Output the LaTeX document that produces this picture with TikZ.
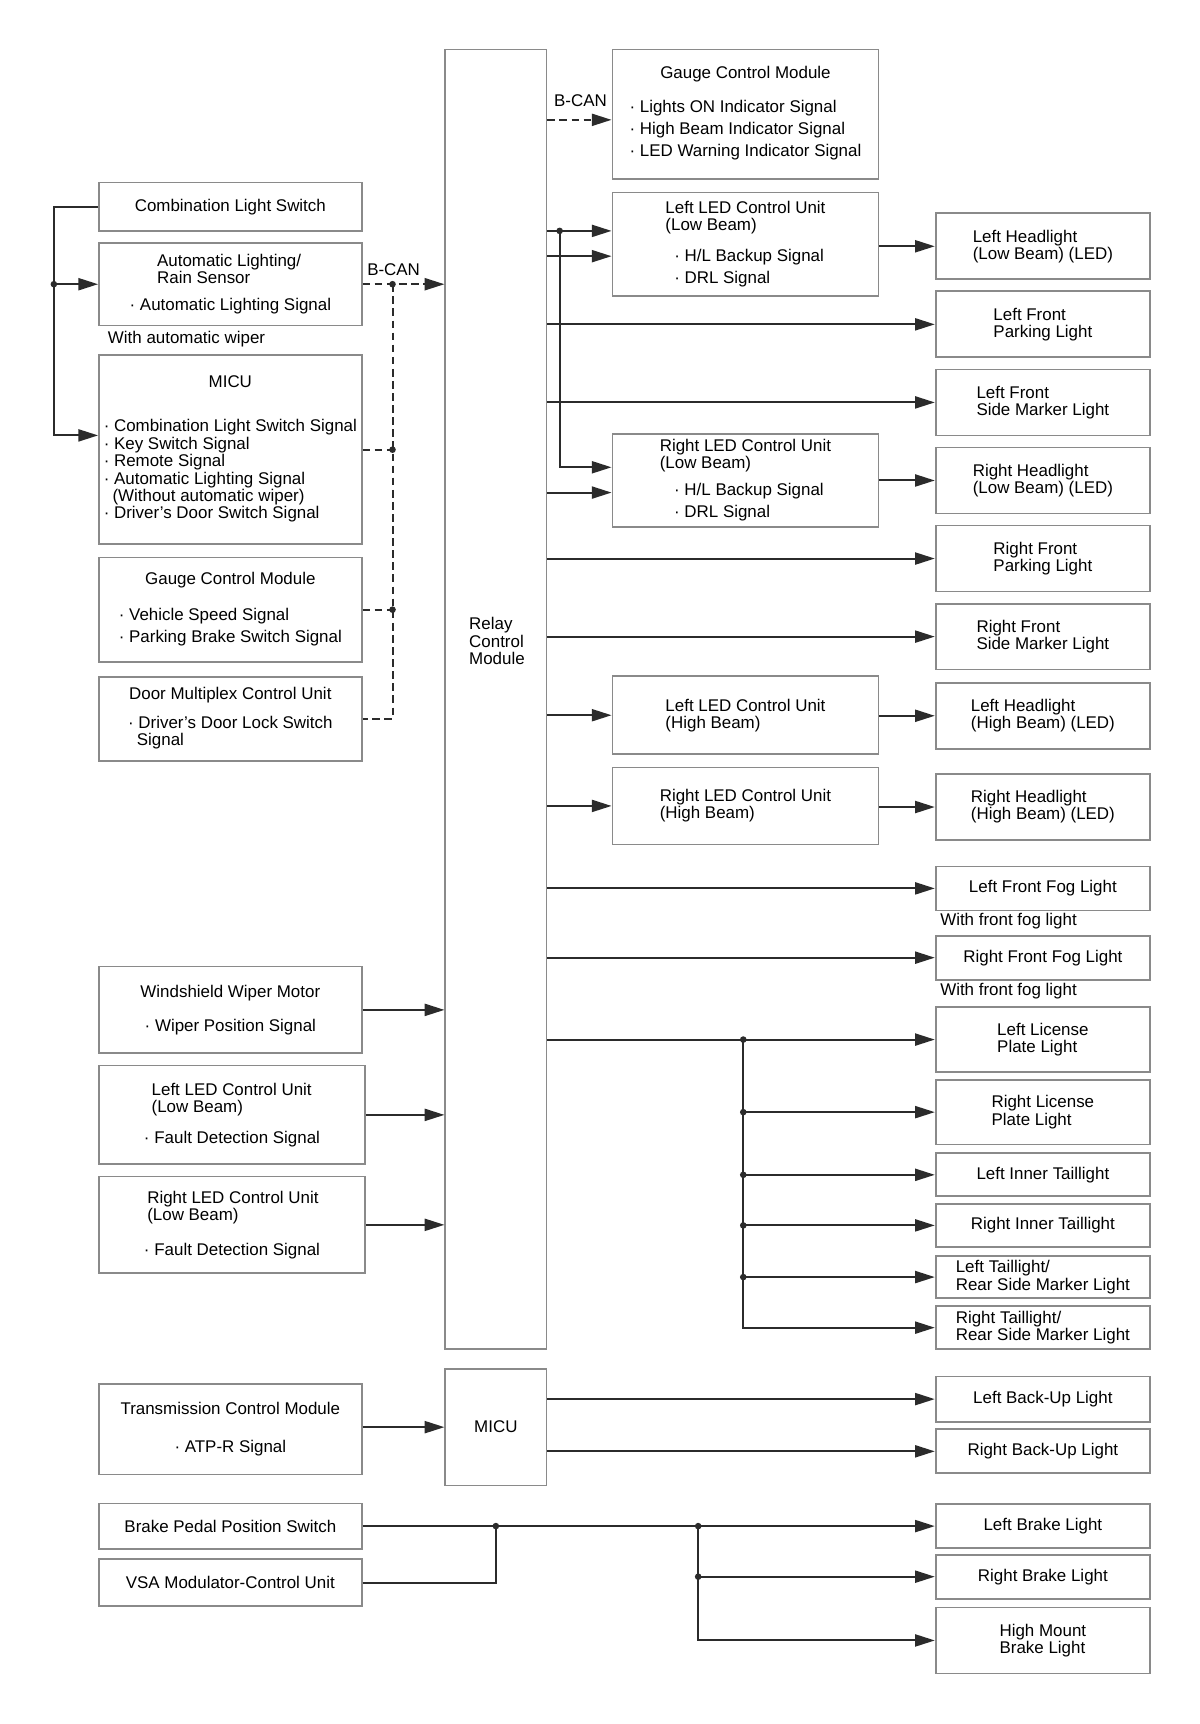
\documentclass[tikz,border=0pt]{standalone}
\usepackage{fontspec}
\setmainfont{Liberation Sans}
\usetikzlibrary{arrows.meta}
\definecolor{WireGray}{HTML}{2B2B2B}
\definecolor{BoxGray}{HTML}{8A8A8A}

\begin{document}
\begin{tikzpicture}[x=1pt, y=-1pt, >={Triangle[length=18pt,width=11pt]},
                    every node/.style={font=\fontsize{15.4}{15.6}\selectfont, inner sep=0pt, align=left},
                    box/.style={draw=BoxGray, line width=1.6pt, fill=white},
                    lbox/.style={box, minimum width=239pt},
                    mbox/.style={box, minimum width=242pt},
                    rbox/.style={box, minimum width=195pt},
                    link/.style={draw=WireGray, line width=1.8pt},
                    can/.style={link, dash pattern=on 7pt off 4pt},
                    note/.style={anchor=west}]
\useasboundingbox[fill=white] (0,0) rectangle (1091,1568);

% inputs on the left
\node[lbox, minimum height=44pt] (cls) at (209.5,188) {Combination Light Switch};
\node[lbox, minimum height=75pt] (als) at (209.5,258.5)
  {\hspace*{25pt}Automatic Lighting/\\\hspace*{25pt}Rain Sensor\\[9pt]· Automatic Lighting Signal};
\node[note] (wiperopt) at (98,308) {With automatic wiper};
\node[lbox, minimum height=172pt, align=center] (micu1) at (209.5,409)
  {MICU\\[25pt]\begin{tabular}[t]{@{}l@{}}· Combination Light Switch Signal\\· Key Switch Signal\\
   · Remote Signal\\· Automatic Lighting Signal\\\hspace*{8pt}(Without automatic wiper)\\
   · Driver's Door Switch Signal\end{tabular}};
\node[lbox, minimum height=95pt, align=center] (gcm2) at (209.5,554.5)
  {Gauge Control Module\\[17pt]\begin{tabular}[t]{@{}l@{}}· Vehicle Speed Signal\\[4.4pt]
   · Parking Brake Switch Signal\end{tabular}};
\node[lbox, minimum height=76pt, align=center] (dmcu) at (209.5,654)
  {Door Multiplex Control Unit\\[10pt]\begin{tabular}[t]{@{}l@{}}· Driver's Door Lock Switch\\
   \hspace*{8pt}Signal\end{tabular}};
\node[lbox, minimum height=79pt, align=center] (wwm) at (209.5,918.5)
  {Windshield Wiper Motor\\[15pt]· Wiper Position Signal};
\node[box, minimum width=242pt, minimum height=90pt] (lledf) at (211,1014)
  {\hspace*{7pt}Left LED Control Unit\\\hspace*{7pt}(Low Beam)\\[12pt]· Fault Detection Signal};
\node[box, minimum width=242pt, minimum height=88pt] (rledf) at (211,1114)
  {\hspace*{3pt}Right LED Control Unit\\\hspace*{3pt}(Low Beam)\\[16pt]· Fault Detection Signal};
\node[lbox, minimum height=82pt, align=center] (tcm) at (209.5,1300)
  {Transmission Control Module\\[19pt]· ATP-R Signal};
\node[lbox, minimum height=41pt] (bpps) at (209.5,1388) {Brake Pedal Position Switch};
\node[lbox, minimum height=43pt] (vsa) at (209.5,1439.5) {VSA Modulator-Control Unit};

% control modules
\node[box, minimum width=92pt, minimum height=1182pt] (relay) at (451,636) {};
\node (rcmtxt) at (452,583) {Relay\\Control\\Module};
\node[box, minimum width=92pt, minimum height=106pt] (micu2) at (451,1298) {MICU};

\node[mbox, minimum height=118pt, align=center] (gcm1) at (678,104)
  {Gauge Control Module\\[15pt]\begin{tabular}[t]{@{}l@{}}· Lights ON Indicator Signal\\[4.4pt]
   · High Beam Indicator Signal\\[4.4pt]· LED Warning Indicator Signal\end{tabular}};
\node[mbox, minimum height=94pt] (lledl) at (678,222)
  {Left LED Control Unit\\(Low Beam)\\[13pt]\hspace*{8pt}· H/L Backup Signal\\[4.4pt]\hspace*{8pt}· DRL Signal};
\node[mbox, minimum height=84pt] (rledl) at (678,437)
  {Right LED Control Unit\\(Low Beam)\\[9pt]\hspace*{13pt}· H/L Backup Signal\\[4.4pt]\hspace*{13pt}· DRL Signal};
\node[mbox, minimum height=71pt] (lledh) at (678,650.5) {Left LED Control Unit\\(High Beam)};
\node[mbox, minimum height=70pt] (rledh) at (678,733) {Right LED Control Unit\\(High Beam)};

% lights on the right
\node[rbox, minimum height=60pt] (lhl) at (948.5,224) {Left Headlight\\(Low Beam) (LED)};
\node[rbox, minimum height=60pt] (lfpl) at (948.5,295) {Left Front\\Parking Light};
\node[rbox, minimum height=60pt] (lfsm) at (948.5,366) {Left Front\\Side Marker Light};
\node[rbox, minimum height=60pt] (rhl) at (948.5,437) {Right Headlight\\(Low Beam) (LED)};
\node[rbox, minimum height=60pt] (rfpl) at (948.5,508) {Right Front\\Parking Light};
\node[rbox, minimum height=60pt] (rfsm) at (948.5,579) {Right Front\\Side Marker Light};
\node[rbox, minimum height=60pt] (lhh) at (948.5,651) {Left Headlight\\(High Beam) (LED)};
\node[rbox, minimum height=60pt] (rhh) at (948.5,734) {Right Headlight\\(High Beam) (LED)};
\node[rbox, minimum height=40pt] (lfog) at (948.5,808) {Left Front Fog Light};
\node[note] (fogopt1) at (855,838) {With front fog light};
\node[rbox, minimum height=40pt] (rfog) at (948.5,871) {Right Front Fog Light};
\node[note] (fogopt2) at (855,901) {With front fog light};
\node[rbox, minimum height=59pt] (llp) at (948.5,945.5) {Left License\\Plate Light};
\node[rbox, minimum height=59pt] (rlp) at (948.5,1011.5) {Right License\\Plate Light};
\node[rbox, minimum height=39pt] (lit) at (948.5,1068.5) {Left Inner Taillight};
\node[rbox, minimum height=39pt] (rit) at (948.5,1114.5) {Right Inner Taillight};
\node[rbox, minimum height=38pt] (ltl) at (948.5,1161.5) {Left Taillight/\\Rear Side Marker Light};
\node[rbox, minimum height=39pt] (rtl) at (948.5,1207.5) {Right Taillight/\\Rear Side Marker Light};
\node[rbox, minimum height=41pt] (lbu) at (948.5,1272.5) {Left Back-Up Light};
\node[rbox, minimum height=40pt] (rbu) at (948.5,1320) {Right Back-Up Light};
\node[rbox, minimum height=40pt] (lbl) at (948.5,1388) {Left Brake Light};
\node[rbox, minimum height=40pt] (rbl) at (948.5,1434) {Right Brake Light};
\node[rbox, minimum height=60pt] (hmbl) at (948.5,1492) {High Mount\\Brake Light};

% junctions
\coordinate (lj) at (49,188);
\coordinate (cj) at (357,258.5);
\coordinate (j1) at (509,210);
\coordinate (tj) at (676,945.5);
\coordinate (bj) at (451,1388);
\coordinate (sj) at (635,1388);
\coordinate (ma) at ([yshift=13pt]micu1.west);
\coordinate (ga) at ([yshift=-5pt]gcm1.west);
\coordinate (la1) at ([yshift=12pt]lledl.west);
\coordinate (la2) at ([yshift=-11pt]lledl.west);
\coordinate (ra1) at ([yshift=12pt]rledl.west);
\coordinate (ra2) at ([yshift=-11pt]rledl.west);

% B-CAN
\node (canl1) at (358,245) {B-CAN};
\node (canl2) at (528,92) {B-CAN};
\draw[can,->] (als.east) -- (als.east -| relay.west);
\draw[can] (cj) |- (dmcu.east);
\draw[can] (micu1.east) -- (micu1.east -| cj);
\draw[can] (gcm2.east) -- (gcm2.east -| cj);
\draw[can,->] (relay.east |- ga) -- (ga);

% left side wiring
\draw[link,->] (cls.west) -- (lj) |- (ma);
\draw[link,->] (lj |- als.west) -- (als.west);
\draw[link,->] (wwm.east) -- (wwm.east -| relay.west);
\draw[link,->] (lledf.east) -- (lledf.east -| relay.west);
\draw[link,->] (rledf.east) -- (rledf.east -| relay.west);

% relay control module outputs
\draw[link,->] (relay.east |- la1) -- (la1);
\draw[link,->] (j1) |- (ra1);
\draw[link,->] (relay.east |- la2) -- (la2);
\draw[link,->] (relay.east |- ra2) -- (ra2);
\draw[link,->] (lledl.east |- lhl.west) -- (lhl.west);
\draw[link,->] (rledl.east |- rhl.west) -- (rhl.west);
\draw[link,->] (relay.east |- lfpl.west) -- (lfpl.west);
\draw[link,->] (relay.east |- lfsm.west) -- (lfsm.west);
\draw[link,->] (relay.east |- rfpl.west) -- (rfpl.west);
\draw[link,->] (relay.east |- rfsm.west) -- (rfsm.west);
\draw[link,->] (relay.east |- lledh.west) -- (lledh.west);
\draw[link,->] (lledh.east |- lhh.west) -- (lhh.west);
\draw[link,->] (relay.east |- rledh.west) -- (rledh.west);
\draw[link,->] (rledh.east |- rhh.west) -- (rhh.west);
\draw[link,->] (relay.east |- lfog.west) -- (lfog.west);
\draw[link,->] (relay.east |- rfog.west) -- (rfog.west);
\draw[link,->] (relay.east |- llp.west) -- (llp.west);
\draw[link,->] (tj) |- (rlp.west);
\draw[link,->] (tj) |- (lit.west);
\draw[link,->] (tj) |- (rit.west);
\draw[link,->] (tj) |- (ltl.west);
\draw[link,->] (tj) |- (rtl.west);

% MICU and brake lights
\draw[link,->] (tcm.east |- micu2.west) -- (micu2.west);
\draw[link,->] (micu2.east |- lbu.west) -- (lbu.west);
\draw[link,->] (micu2.east |- rbu.west) -- (rbu.west);
\draw[link,->] (bpps.east) -- (lbl.west);
\draw[link] (vsa.east) -| (bj);
\draw[link,->] (sj) |- (rbl.west);
\draw[link,->] (sj) |- (hmbl.west);

% dots
\fill[WireGray] (lj |- als.west) circle (3pt);
\fill[WireGray] (cj) circle (3pt);
\fill[WireGray] (micu1.east -| cj) circle (3pt);
\fill[WireGray] (gcm2.east -| cj) circle (3pt);
\fill[WireGray] (j1) circle (3pt);
\fill[WireGray] (tj) circle (3pt);
\fill[WireGray] (tj |- rlp.west) circle (3pt);
\fill[WireGray] (tj |- lit.west) circle (3pt);
\fill[WireGray] (tj |- rit.west) circle (3pt);
\fill[WireGray] (tj |- ltl.west) circle (3pt);
\fill[WireGray] (bj) circle (3pt);
\fill[WireGray] (sj) circle (3pt);
\fill[WireGray] (sj |- rbl.west) circle (3pt);
\end{tikzpicture}
\end{document}
